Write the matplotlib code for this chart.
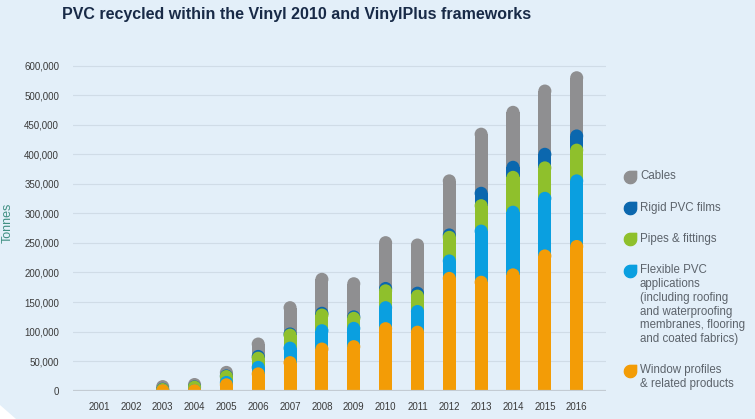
import numpy as np
import matplotlib
matplotlib.use('Agg')
import matplotlib.pyplot as plt
from matplotlib.patches import Ellipse, Polygon
from matplotlib.path import Path

plt.rcParams['font.family'] = ['Liberation Sans', 'DejaVu Sans']

# data (tonnes)
years = ['2001', '2002', '2003', '2004', '2005', '2006', '2007', '2008',
         '2009', '2010', '2011', '2012', '2013', '2014', '2015', '2016']
window = [0, 0, 6000, 9500, 21000, 39500, 58500, 81500, 85500, 116000,
          110000, 201000, 194500, 207000, 239000, 255000]
flexible = [0, 0, 2000, 1500, 4000, 11000, 24500, 31000, 31000, 35500,
            35000, 29500, 86500, 106000, 97500, 111000]
pipes = [0, 0, 5000, 6000, 10000, 15500, 22000, 26500, 17000, 28500,
         26000, 40000, 43000, 59000, 51500, 52000]
rigid = [0, 0, 500, 500, 1000, 3000, 2000, 3000, 2500, 4000,
         5000, 4000, 21000, 17000, 23000, 24000]
cables = [0, 0, 4500, 4000, 6000, 21000, 44500, 57500, 56000, 77500,
          81500, 91500, 100000, 93000, 107000, 98500]

series = [window, flexible, pipes, rigid, cables]
colors = ['#f39c06', '#0a9fe0', '#8fc02c', '#0b67ae', '#8f8f91']
labels = ['Window profiles\n& related products',
          'Flexible PVC\napplications\n(including roofing\nand waterproofing\nmembranes, flooring\nand coated fabrics)',
          'Pipes & fittings', 'Rigid PVC films', 'Cables']

ytick_vals = [0, 50000, 100000, 150000, 200000, 250000, 300000, 350000,
              400000, 450000, 500000, 550000]
ytick_labels = ['0', '50,000', '100,000', '150,000', '200,000', '250,000',
                '300,000', '350,000', '400,000', '450,000', '500,000', '600,000']

bg = '#e3eff9'
W, H = 755, 419
fig = plt.figure(figsize=(7.55, 4.19), dpi=100, facecolor=bg)

# overlay in pixel coords for decorations / legend
ov = fig.add_axes([0, 0, 1, 1], zorder=0)
ov.set_xlim(0, W)
ov.set_ylim(H, 0)
ov.axis('off')
ov.add_patch(Polygon([(0, 405), (16, 419), (0, 419)], closed=True,
                     facecolor='white', edgecolor='none'))

ax = fig.add_axes([73 / W, (H - 390.7) / H, (606 - 73) / W, (390.7 - 59.7) / H], zorder=1)
ax.set_facecolor('none')
x = np.arange(len(years))
ax.set_xlim(-0.816, 15.92)
ax.set_ylim(0, 560000)
bw = 0.41

# radius of the round cap in data units
px_x = ax.transData.transform([(1, 0)])[0][0] - ax.transData.transform([(0, 0)])[0][0]
px_y = ax.transData.transform([(0, 1)])[0][1] - ax.transData.transform([(0, 0)])[0][1]
r = bw * px_x / 2 / px_y

cum = np.cumsum(np.array(series, dtype=float), axis=0)
for k in range(len(series) - 1, -1, -1):
    tops = cum[k]
    for xi, v in zip(x, tops):
        if v <= 0:
            continue
        h = max(v - r, 0)
        ax.bar(xi, h, width=bw, color=colors[k], linewidth=0, zorder=3)
        ax.add_patch(Ellipse((xi, h), bw, 2 * r, facecolor=colors[k],
                             edgecolor='none', zorder=3))

for yv in ytick_vals[1:]:
    ax.axhline(yv, color='#d0dce7', lw=0.8, zorder=1)
ax.axhline(0, color='#c3cbd3', lw=1.6, zorder=4)

ax.set_yticks(ytick_vals)
ax.set_yticklabels(ytick_labels)
ax.set_xticks(x)
ax.set_xticklabels(years)
ax.tick_params(axis='y', length=0, pad=10, labelsize=7, labelcolor='#3a3a3a')
ax.tick_params(axis='x', length=0, pad=8, labelsize=7, labelcolor='#3a3a3a')
for s in ax.spines.values():
    s.set_visible(False)

fig.text(7.5 / W, 1 - 223 / H, 'Tonnes', rotation=90, ha='center', va='center',
         fontsize=9, color='#3f8f82')
fig.text(62 / W, 1 - 14 / H, 'PVC recycled within the Vinyl 2010 and VinylPlus frameworks',
         ha='left', va='center', fontsize=11.5, fontweight='bold', color='#182a47')

# leaf shaped legend icons
arc = Path.arc(90, 360)
leaf = Path(np.vstack([arc.vertices, [[1, 1], [0, 1]]]),
            list(arc.codes) + [Path.LINETO, Path.CLOSEPOLY])
leg_y = [370.5, 270.7, 239.3, 208.3, 176.7]
for k in range(len(series)):
    ov.plot(630, leg_y[k], marker=leaf, markersize=9, color=colors[k],
            linestyle='none')
    ov.text(640, leg_y[k] - 6.5, labels[k], ha='left', va='top', fontsize=8.3,
            color='#5c636b', linespacing=1.2)

fig.savefig('out.png', dpi=100, facecolor=bg)
